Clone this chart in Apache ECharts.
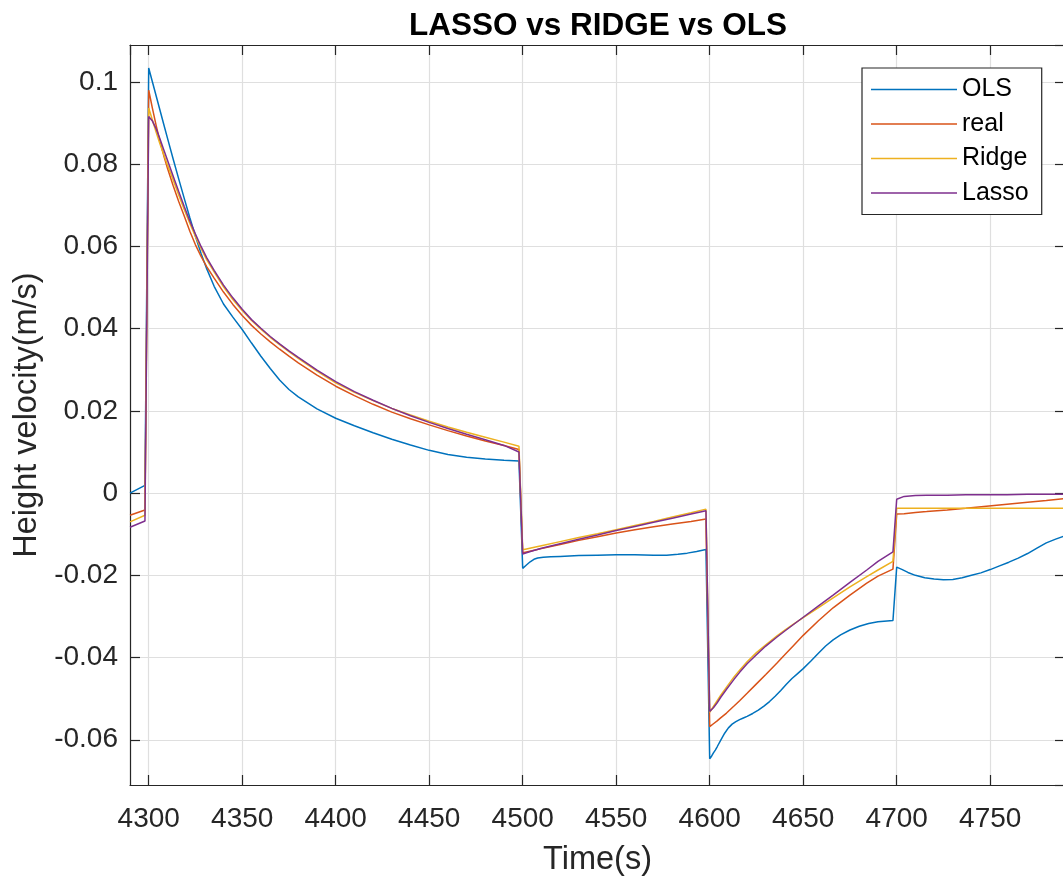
<!DOCTYPE html>
<html>
<head>
<meta charset="utf-8">
<script src="https://cdn.jsdelivr.net/npm/echarts@6/dist/echarts.min.js"></script>
<style>
  html, body { margin: 0; padding: 0; background: #fff; }
  #chart { width: 1063px; height: 879px; }
</style>
</head>
<body>
<div id="chart"></div>
<script>
// OLS estimate: sample times (s) and height velocity (m/s)
const olsT = [
  4290, 4298, 4300, 4301, 4302, 4304, 4306, 4308, 4310, 4313, 4316, 4319, 4322, 4325, 4328, 4331, 4335, 4340, 4345, 4350,
  4355, 4360, 4365, 4370, 4375, 4380, 4390, 4400, 4410, 4420, 4430, 4440, 4450, 4460, 4470, 4480, 4490, 4498,
  4500, 4501, 4502, 4504, 4506, 4508, 4511, 4515, 4520, 4530, 4540, 4550, 4560, 4570, 4577, 4583, 4588, 4593, 4598,
  4600, 4601, 4602, 4603, 4604, 4606, 4608, 4610, 4612, 4614, 4616, 4618, 4620, 4623, 4626, 4629, 4632, 4635, 4638, 4641,
  4644, 4647, 4650, 4654, 4658, 4662, 4666, 4670, 4675, 4680, 4685, 4690, 4698,
  4700, 4703, 4706, 4710, 4715, 4720, 4725, 4730, 4735, 4740, 4745, 4750, 4755, 4760, 4765, 4770, 4775, 4780, 4785, 4790
];
const olsV = [
  0.0000, 0.0019, 0.1034, 0.1017, 0.1000, 0.0966, 0.0932, 0.0898, 0.0864, 0.0814, 0.0765, 0.0717, 0.0670, 0.0625, 0.0583, 0.0546, 0.0503, 0.0460, 0.0428, 0.0398,
  0.0365, 0.0333, 0.0303, 0.0275, 0.0252, 0.0234, 0.0205, 0.0182, 0.0164, 0.0147, 0.0131, 0.0117, 0.0104, 0.0094, 0.0087, 0.0083, 0.0080, 0.0078,
  -0.0183, -0.0180, -0.0175, -0.0167, -0.0161, -0.0158, -0.0156, -0.0155, -0.0154, -0.0152, -0.0151, -0.0150, -0.0150, -0.0151, -0.0151, -0.0149, -0.0146, -0.0142, -0.0137,
  -0.0646, -0.0640, -0.0632, -0.0625, -0.0617, -0.0600, -0.0584, -0.0571, -0.0562, -0.0556, -0.0551, -0.0547, -0.0543, -0.0536, -0.0528, -0.0518, -0.0507, -0.0494, -0.0480, -0.0465,
  -0.0451, -0.0439, -0.0427, -0.0409, -0.0390, -0.0372, -0.0357, -0.0345, -0.0333, -0.0324, -0.0317, -0.0313, -0.0310,
  -0.0180, -0.0186, -0.0193, -0.0200, -0.0206, -0.0209, -0.0211, -0.0210, -0.0206, -0.0200, -0.0194, -0.0186, -0.0177, -0.0168, -0.0158, -0.0147, -0.0134, -0.0121, -0.0112, -0.0104
];

// Sample times (s) shared by the measured signal and the regularised fits
const fitT = [
  4290, 4298, 4300, 4301, 4302, 4304, 4306, 4308, 4310, 4313, 4316, 4319, 4322, 4325, 4328, 4331, 4335, 4340, 4345, 4350,
  4355, 4360, 4365, 4370, 4375, 4380, 4390, 4400, 4410, 4420, 4430, 4440, 4450, 4460, 4470, 4480, 4490, 4498,
  4500, 4502, 4505, 4510, 4520, 4530, 4540, 4550, 4560, 4570, 4580, 4590, 4598,
  4600, 4602, 4604, 4606, 4609, 4613, 4616, 4620, 4625, 4630, 4636, 4640, 4645, 4650, 4658, 4666, 4675, 4684, 4690, 4698,
  4700, 4704, 4710, 4716, 4727, 4737, 4748, 4759, 4770, 4780, 4790
];
const realV = [
  -0.0054, -0.0041, 0.0980, 0.0958, 0.0936, 0.0894, 0.0856, 0.0822, 0.0791, 0.0749, 0.0710, 0.0674, 0.0637, 0.0604, 0.0576, 0.0551, 0.0523, 0.0489, 0.0459, 0.0432,
  0.0408, 0.0387, 0.0368, 0.0350, 0.0333, 0.0317, 0.0287, 0.0260, 0.0237, 0.0216, 0.0197, 0.0181, 0.0166, 0.0152, 0.0139, 0.0127, 0.0116, 0.0106,
  -0.0145, -0.0143, -0.0140, -0.0135, -0.0125, -0.0115, -0.0106, -0.0097, -0.0089, -0.0082, -0.0075, -0.0069, -0.0063,
  -0.0568, -0.0561, -0.0554, -0.0546, -0.0535, -0.0518, -0.0505, -0.0487, -0.0464, -0.0441, -0.0413, -0.0394, -0.0370, -0.0346, -0.0311, -0.0279, -0.0248, -0.0219, -0.0202, -0.0185,
  -0.0051, -0.0050, -0.0047, -0.0045, -0.0041, -0.0037, -0.0032, -0.0027, -0.0022, -0.0018, -0.0013
];
const ridgeV = [
  -0.0070, -0.0054, 0.0937, 0.0922, 0.0907, 0.0878, 0.0850, 0.0824, 0.0799, 0.0763, 0.0726, 0.0690, 0.0656, 0.0624, 0.0595, 0.0568, 0.0538, 0.0502, 0.0471, 0.0444,
  0.0420, 0.0399, 0.0379, 0.0361, 0.0344, 0.0328, 0.0297, 0.0268, 0.0245, 0.0225, 0.0206, 0.0190, 0.0175, 0.0161, 0.0148, 0.0136, 0.0124, 0.0114,
  -0.0138, -0.0136, -0.0133, -0.0128, -0.0118, -0.0108, -0.0099, -0.0089, -0.0079, -0.0069, -0.0058, -0.0048, -0.0039,
  -0.0533, -0.0519, -0.0505, -0.0491, -0.0472, -0.0447, -0.0431, -0.0410, -0.0388, -0.0369, -0.0347, -0.0334, -0.0318, -0.0303, -0.0279, -0.0255, -0.0228, -0.0203, -0.0187, -0.0166,
  -0.0037, -0.0037, -0.0037, -0.0037, -0.0037, -0.0037, -0.0037, -0.0037, -0.0037, -0.0037, -0.0037
];
const lassoV = [
  -0.0083, -0.0068, 0.0916, 0.0913, 0.0905, 0.0886, 0.0862, 0.0836, 0.0810, 0.0772, 0.0734, 0.0697, 0.0662, 0.0630, 0.0600, 0.0573, 0.0542, 0.0506, 0.0475, 0.0447,
  0.0422, 0.0401, 0.0381, 0.0363, 0.0346, 0.0330, 0.0299, 0.0271, 0.0247, 0.0226, 0.0206, 0.0188, 0.0172, 0.0157, 0.0143, 0.0130, 0.0116, 0.0100,
  -0.0148, -0.0145, -0.0141, -0.0134, -0.0123, -0.0112, -0.0102, -0.0091, -0.0081, -0.0071, -0.0061, -0.0051, -0.0043,
  -0.0531, -0.0522, -0.0510, -0.0496, -0.0477, -0.0453, -0.0436, -0.0415, -0.0393, -0.0372, -0.0350, -0.0336, -0.0319, -0.0302, -0.0275, -0.0248, -0.0217, -0.0187, -0.0166, -0.0143,
  -0.0015, -0.0008, -0.0006, -0.0005, -0.0005, -0.0004, -0.0004, -0.0004, -0.0003, -0.0003, -0.0003
];

const seriesNames = ['OLS', 'real', 'Ridge', 'Lasso'];
const seriesTimes = [olsT, fitT, fitT, fitT];
const seriesValues = [olsV, realV, ridgeV, lassoV];
const seriesColors = ['#0072BD', '#D95319', '#EDB120', '#7E2F8E'];

const xRange = [4290, 4790];
const yRange = [-0.071, 0.109];
const xStep = 50;
const yStep = 0.02;

const FONT = '"Liberation Sans", Arial, Helvetica, sans-serif';
const AXIS_COLOR = '#262626';
const GRID_COLOR = '#dfdfdf';

const chart = echarts.init(document.getElementById('chart'), null, { renderer: 'canvas' });

// One side of the boxed axes; only the bottom/left sides carry labels and grid lines
function boxAxis(isX, position, showLabels) {
  const range = isX ? xRange : yRange;
  const step = isX ? xStep : yStep;
  return {
    type: 'value',
    position: position,
    min: range[0],
    max: range[1],
    minInterval: step,
    maxInterval: step,
    splitNumber: Math.round((range[1] - range[0]) / step),
    axisLine: { show: true, onZero: false, lineStyle: { color: AXIS_COLOR, width: 1.2 } },
    axisTick: { show: true, inside: true, length: 10, lineStyle: { color: AXIS_COLOR, width: 1.2 } },
    axisLabel: {
      show: showLabels,
      showMinLabel: false,
      showMaxLabel: false,
      color: AXIS_COLOR,
      fontFamily: FONT,
      fontSize: 28,
      margin: isX ? 20 : 12,
      formatter: (v) => String(+v.toFixed(isX ? 0 : 4))
    },
    splitLine: { show: showLabels, lineStyle: { color: GRID_COLOR, width: 1.2 } }
  };
}

const xMain = boxAxis(true, 'bottom', true);
xMain.name = 'Time(s)';
xMain.nameLocation = 'middle';
xMain.nameGap = 59;
xMain.nameTextStyle = { color: AXIS_COLOR, fontFamily: FONT, fontSize: 32.5 };

const yMain = boxAxis(false, 'left', true);
yMain.name = 'Height velocity(m/s)';
yMain.nameLocation = 'middle';
yMain.nameGap = 77;
yMain.nameTextStyle = { color: AXIS_COLOR, fontFamily: FONT, fontSize: 32.5 };

const option = {
  animation: false,
  backgroundColor: '#ffffff',
  title: {
    text: 'LASSO vs RIDGE vs OLS',
    left: 409,
    top: 10,
    padding: 0,
    textStyle: { color: '#000000', fontFamily: FONT, fontWeight: 'bold', fontSize: 31.5 }
  },
  grid: {
    left: 130,
    top: 45,
    width: 935,
    height: 740,
    containLabel: false,
    outerBoundsMode: 'none'
  },
  legend: {
    data: seriesNames,
    orient: 'vertical',
    left: 862,
    top: 68,
    icon: 'rect',
    itemWidth: 86,
    itemHeight: 1.6,
    itemGap: 9.5,
    padding: [9, 13, 9, 9],
    backgroundColor: '#ffffff',
    borderColor: AXIS_COLOR,
    borderWidth: 1.2,
    borderRadius: 0,
    textStyle: { color: '#000000', fontFamily: FONT, fontSize: 25 }
  },
  xAxis: [xMain, boxAxis(true, 'top', false)],
  yAxis: [yMain, boxAxis(false, 'right', false)],
  series: seriesNames.map((name, k) => ({
    name: name,
    type: 'line',
    xAxisIndex: 0,
    yAxisIndex: 0,
    showSymbol: false,
    symbol: 'none',
    color: seriesColors[k],
    lineStyle: { color: seriesColors[k], width: 1.5 },
    data: seriesTimes[k].map((t, i) => [t, seriesValues[k][i]])
  }))
};

chart.setOption(option);
</script>
</body>
</html>
